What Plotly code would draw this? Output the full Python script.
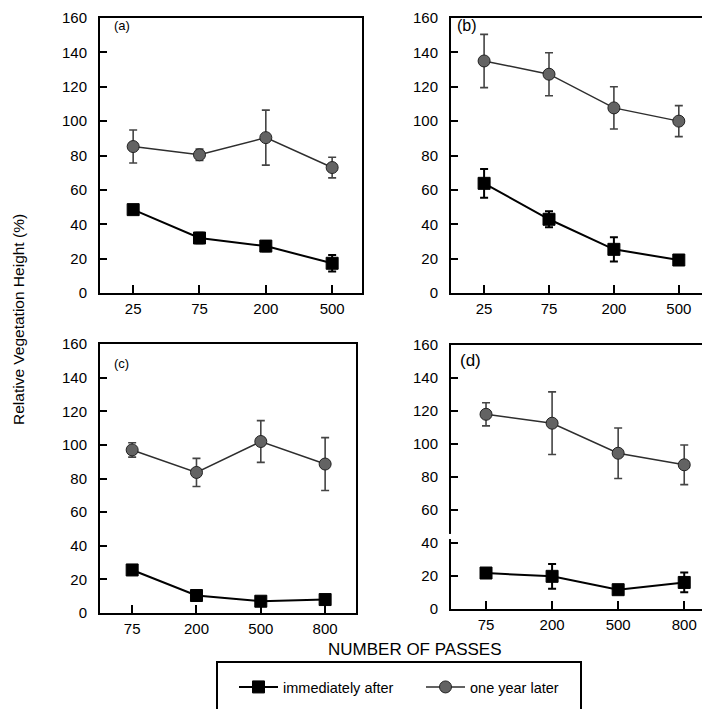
import plotly.graph_objects as go

# ---------------- data ----------------
passes_ab = ["25", "75", "200", "500"]
passes_cd = ["75", "200", "500", "800"]

a_imm = [48.5, 32.0, 27.3, 17.3]
a_imm_err = [2.5, 3.0, 3.0, 4.8]
a_year = [85.2, 80.4, 90.4, 73.0]
a_year_err = [9.6, 3.3, 16.0, 6.0]

b_imm = [63.8, 42.9, 25.4, 19.2]
b_imm_err = [8.4, 4.6, 7.0, 2.0]
b_year = [135.0, 127.3, 107.7, 100.0]
b_year_err = [15.5, 12.5, 12.3, 9.0]

c_imm = [25.6, 10.4, 7.0, 8.0]
c_imm_err = [2.0, 1.5, 1.5, 1.5]
c_year = [97.0, 83.6, 102.0, 88.6]
c_year_err = [4.3, 8.4, 12.4, 15.7]

d_imm = [21.8, 19.8, 11.7, 16.1]
d_imm_err = [1.5, 7.5, 1.5, 6.0]
d_year = [118.0, 112.6, 94.4, 87.4]
d_year_err = [7.0, 19.0, 15.3, 12.0]

y_ticks = [0, 20, 40, 60, 80, 100, 120, 140, 160]
panel_labels = ["(a)", "(b)", "(c)", "(d)"]
series_names = ["immediately after", "one year later"]

FONT = "Liberation Sans, Arial, Helvetica, sans-serif"
# the page body adds an 8px margin, so the figure is drawn 8px smaller and
# page coordinates are converted into figure coordinates
OFF = 8
W, H = 710 - OFF, 709 - OFF

def px(x):
    return (x - OFF) / W

def py(y):
    return 1 - (y - OFF) / H

panels = [
    dict(cats=passes_ab, imm=a_imm, imm_e=a_imm_err, yr=a_year, yr_e=a_year_err,
         xd=[px(100), px(362)], yd=[py(293), py(18)], xr=[-0.5, 3.45], mirror_y=True),
    dict(cats=passes_ab, imm=b_imm, imm_e=b_imm_err, yr=b_year, yr_e=b_year_err,
         xd=[px(451), px(708)], yd=[py(293), py(18)], xr=[-0.51, 3.45], mirror_y=True),
    dict(cats=passes_cd, imm=c_imm, imm_e=c_imm_err, yr=c_year, yr_e=c_year_err,
         xd=[px(100), px(356)], yd=[py(613), py(344)], xr=[-0.5, 3.48], mirror_y=True),
    dict(cats=passes_cd, imm=d_imm, imm_e=d_imm_err, yr=d_year, yr_e=d_year_err,
         xd=[px(451), 1.0], yd=[py(609), py(345)], xr=[-0.53, 3.39], mirror_y=False),
]

fig = go.Figure()

for i, p in enumerate(panels):
    n = "" if i == 0 else str(i + 1)
    xa, ya = "x" + n, "y" + n
    # one year later
    fig.add_trace(go.Scatter(
        x=p["cats"], y=p["yr"], xaxis=xa, yaxis=ya,
        mode="lines+markers", name=series_names[1], showlegend=(i == 0),
        legendrank=2,
        line=dict(color="#2e2e2e", width=1.5),
        marker=dict(symbol="circle", size=12, color="#636363",
                    line=dict(color="#222222", width=1)),
        error_y=dict(type="data", array=p["yr_e"], visible=True,
                     color="#444444", thickness=1.6, width=4),
    ))
    # immediately after
    fig.add_trace(go.Scatter(
        x=p["cats"], y=p["imm"], xaxis=xa, yaxis=ya,
        mode="lines+markers", name=series_names[0], showlegend=(i == 0),
        legendrank=1,
        line=dict(color="black", width=2),
        marker=dict(symbol="square", size=12, color="black",
                    line=dict(color="black", width=1)),
        error_y=dict(type="data", array=p["imm_e"], visible=True,
                     color="black", thickness=2, width=4),
    ))

    xkey = "xaxis" + n
    ykey = "yaxis" + n
    fig.layout[xkey] = dict(
        domain=p["xd"], anchor=ya, type="category",
        categoryorder="array", categoryarray=p["cats"],
        range=p["xr"], showgrid=False, zeroline=False, automargin=False,
        showline=True, linecolor="black", linewidth=2, mirror=True,
        ticks="inside", ticklen=8, tickwidth=1.5, tickcolor="black",
        ticklabelstandoff=1, ticklabeloverflow="allow",
        tickfont=dict(family=FONT, size=15, color="black"),
    )
    fig.layout[ykey] = dict(
        domain=p["yd"], anchor=xa, range=[0, 160],
        tickvals=y_ticks, showgrid=False, zeroline=False, automargin=False,
        showline=True, linecolor="black", linewidth=2, mirror=p["mirror_y"],
        ticks="inside", ticklen=7, tickwidth=1.5, tickcolor="black",
        ticklabelstandoff=8, ticklabeloverflow="allow",
        tickfont=dict(family=FONT, size=15, color="black"),
    )

annotations = []
label_pos = [(112, 26, 13), (455, 26, 16), (112, 363, 13), (458, 360, 17)]
for lab, (lx, ly, fs) in zip(panel_labels, label_pos):
    annotations.append(dict(text=lab, x=px(lx), y=py(ly), xref="paper", yref="paper",
                            xanchor="left", yanchor="middle", showarrow=False,
                            font=dict(family=FONT, size=fs, color="black")))

annotations.append(dict(text="Relative Vegetation Height (%)", x=px(18), y=py(320),
                        xref="paper", yref="paper", textangle=-90, showarrow=False,
                        xanchor="center", yanchor="middle",
                        font=dict(family=FONT, size=15.5, color="black")))
annotations.append(dict(text="NUMBER OF PASSES", x=px(415), y=py(649),
                        xref="paper", yref="paper", showarrow=False,
                        xanchor="center", yanchor="middle",
                        font=dict(family=FONT, size=17, color="black")))

shapes = [
    # axis break in panel (d)
    dict(type="rect", xref="x4 domain", yref="y4", x0=-0.02, x1=0.006, y0=42.4, y1=45.5,
         fillcolor="white", line=dict(width=0), layer="above"),
    # legend frame
    dict(type="rect", xref="paper", yref="paper", x0=px(217), x1=px(581),
         y0=py(715), y1=py(662), line=dict(color="black", width=2),
         fillcolor="rgba(0,0,0,0)"),
]

fig.update_layout(
    template="none",
    width=W, height=H,
    margin=dict(l=0, r=0, t=0, b=0, autoexpand=False),
    paper_bgcolor="white", plot_bgcolor="white",
    font=dict(family=FONT, color="black"),
    annotations=annotations, shapes=shapes,
    showlegend=True,
    legend=dict(orientation="h", x=px(234), y=py(687), xanchor="left", yanchor="middle",
                bgcolor="rgba(0,0,0,0)", borderwidth=0, entrywidth=133,
                entrywidthmode="pixels", itemwidth=39, traceorder="normal",
                font=dict(family=FONT, size=14.5, color="black")),
)

fig.write_html("out.html")
